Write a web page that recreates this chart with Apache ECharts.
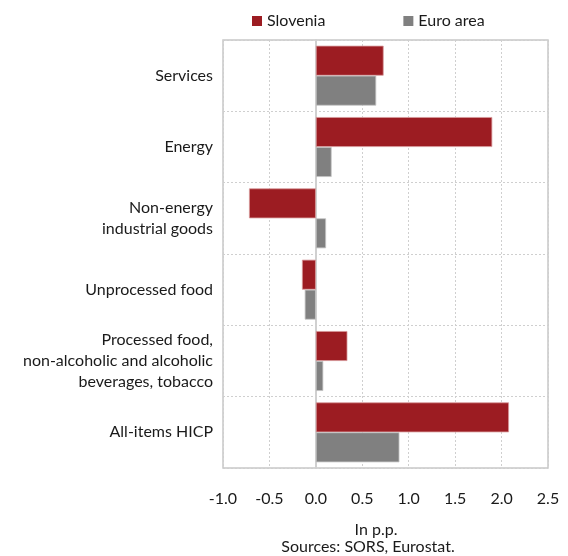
<!DOCTYPE html>
<html>
  <head>
    <meta charset="utf-8" />
    <title>HICP contributions</title>
    <script src="https://cdn.jsdelivr.net/npm/echarts@6/dist/echarts.min.js"></script>
    <style>
      html, body { margin: 0; padding: 0; background: #fff; }
    </style>
  </head>
  <body>
    <div id="chart" style="width: 568px; height: 556px"></div>

    <script type="text/javascript">
// Categories, top to bottom
const categories = [
  'Services',
  'Energy',
  'Non-energy\nindustrial goods',
  'Unprocessed food',
  'Processed food,\nnon-alcoholic and alcoholic\nbeverages, tobacco',
  'All-items HICP'
];

// Values in p.p.
const slovenia = [0.73, 1.90, -0.72, -0.15, 0.34, 2.08];
const euroArea = [0.65, 0.17, 0.11, -0.12, 0.08, 0.90];

const xTicks = [-1.0, -0.5, 0.0, 0.5, 1.0, 1.5, 2.0, 2.5];

const font = 'Lato';
const textColor = '#1a1a1a';

const option = {
  animation: false,
  textStyle: { fontFamily: font },
  legend: {
    top: 8,
    left: 247,
    itemWidth: 10,
    itemHeight: 10,
    itemGap: 78,
    icon: 'rect',
    itemStyle: { borderWidth: 0 },
    textStyle: { fontSize: 16, color: textColor, fontFamily: font },
    data: ['Slovenia', 'Euro area']
  },
  title: [
    {
      text: 'In p.p.',
      left: 371,
      top: 517,
      textAlign: 'center',
      textStyle: { fontSize: 16, fontWeight: 'normal', color: textColor, fontFamily: font }
    },
    {
      text: 'Sources: SORS, Eurostat.',
      left: 363,
      top: 534,
      textAlign: 'center',
      textStyle: { fontSize: 16, fontWeight: 'normal', color: textColor, fontFamily: font }
    }
  ],
  grid: {
    left: 223,
    right: 20,
    top: 40,
    bottom: 88,
    show: true,
    borderColor: '#c8c8c8',
    borderWidth: 1.5
  },
  xAxis: {
    type: 'value',
    min: xTicks[0],
    max: xTicks[xTicks.length - 1],
    interval: 0.5,
    axisLine: { show: false },
    axisTick: { show: false },
    axisLabel: {
      margin: 23,
      fontSize: 16,
      color: textColor,
      fontFamily: font,
      formatter: (v) => v.toFixed(1)
    },
    splitLine: {
      lineStyle: { color: '#cfcfcf', type: [2, 2], width: 1 }
    }
  },
  yAxis: {
    type: 'category',
    inverse: true,
    data: categories,
    axisLine: { onZero: true, lineStyle: { color: '#d0d0d0', width: 2 } },
    axisTick: { show: false },
    axisLabel: {
      margin: 10,
      fontSize: 16,
      lineHeight: 21,
      color: textColor,
      fontFamily: font,
      align: 'right'
    },
    splitLine: {
      show: true,
      lineStyle: { color: '#cfcfcf', type: [2, 2], width: 1 }
    }
  },
  series: [
    {
      name: 'Slovenia',
      type: 'bar',
      data: slovenia,
      barGap: '0%',
      barCategoryGap: '16%',
      itemStyle: { color: '#9c1c22', borderColor: '#d89a9c', borderWidth: 0.8 }
    },
    {
      name: 'Euro area',
      type: 'bar',
      data: euroArea,
      itemStyle: { color: '#808080', borderColor: '#c4c4c4', borderWidth: 0.8 }
    }
  ]
};

const chart = echarts.init(document.getElementById('chart'));
chart.setOption(option);
    </script>
  </body>
</html>
